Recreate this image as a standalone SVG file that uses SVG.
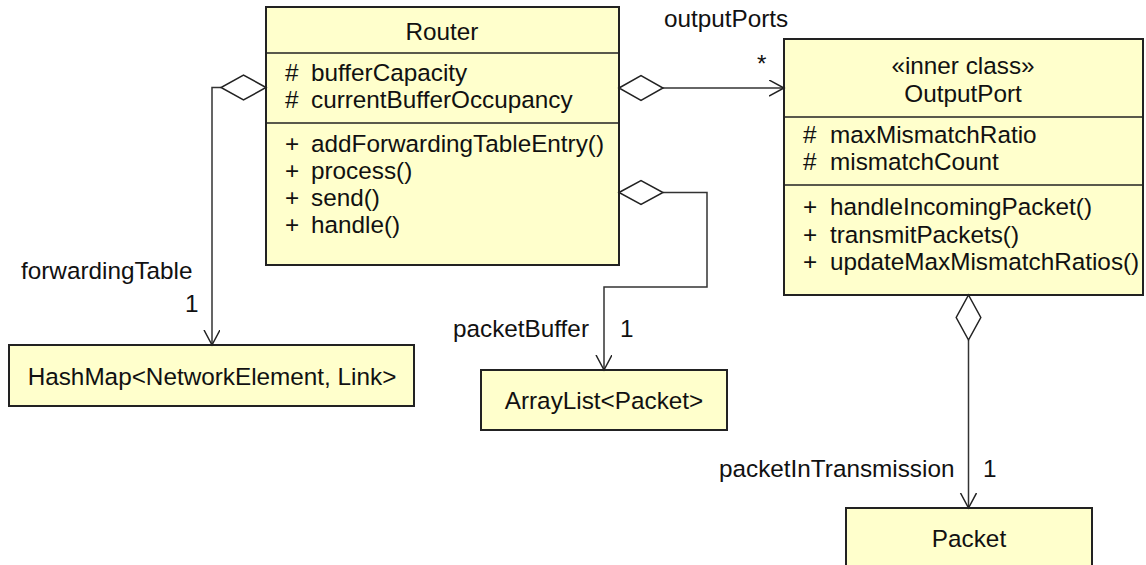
<svg xmlns="http://www.w3.org/2000/svg" width="1146" height="565" viewBox="0 0 1146 565">
  <style>
    .box { fill: #ffffcc; stroke: #222; stroke-width: 2; }
    .sep { stroke: #222; stroke-width: 1.5; fill: none; }
    .t { font-family: "Liberation Sans", Arial, sans-serif; font-size: 24.3px; fill: #111; }
    .c { text-anchor: middle; }
    .conn path, .conn line { stroke: #333; stroke-width: 1.5; fill: none; }
    .diamond { fill: #fff; stroke: #222; stroke-width: 1.5; }
  </style>
  <defs>
    <marker id="openArrow" markerWidth="18" markerHeight="20" refX="15" refY="8" orient="auto" markerUnits="userSpaceOnUse">
      <path d="M0,0 L15,8 L0,16" fill="none" stroke="#222" stroke-width="1.5"/>
    </marker>
  </defs>

  <!-- Router class -->
  <g id="router">
    <rect class="box" x="266" y="7" width="353" height="258"/>
    <line class="sep" x1="266" y1="53" x2="619" y2="53"/>
    <line class="sep" x1="266" y1="123" x2="619" y2="123"/>
    <text class="t c" x="442" y="40">Router</text>
    <text class="t" x="285" y="81">#</text>
    <text class="t" x="311" y="81">bufferCapacity</text>
    <text class="t" x="285" y="108">#</text>
    <text class="t" x="311" y="108">currentBufferOccupancy</text>
    <text class="t" x="285" y="152">+</text>
    <text class="t" x="311" y="152">addForwardingTableEntry()</text>
    <text class="t" x="285" y="179">+</text>
    <text class="t" x="311" y="179">process()</text>
    <text class="t" x="285" y="206">+</text>
    <text class="t" x="311" y="206">send()</text>
    <text class="t" x="285" y="233">+</text>
    <text class="t" x="311" y="233">handle()</text>
  </g>

  <!-- OutputPort inner class -->
  <g id="outputPort">
    <rect class="box" x="784" y="39" width="359" height="256"/>
    <line class="sep" x1="784" y1="117" x2="1143" y2="117"/>
    <line class="sep" x1="784" y1="185" x2="1143" y2="185"/>
    <text class="t c" x="963" y="74">«inner class»</text>
    <text class="t c" x="963" y="102">OutputPort</text>
    <text class="t" x="803" y="143">#</text>
    <text class="t" x="830" y="143">maxMismatchRatio</text>
    <text class="t" x="803" y="170">#</text>
    <text class="t" x="830" y="170">mismatchCount</text>
    <text class="t" x="803" y="215">+</text>
    <text class="t" x="830" y="215">handleIncomingPacket()</text>
    <text class="t" x="803" y="243">+</text>
    <text class="t" x="830" y="243">transmitPackets()</text>
    <text class="t" x="803" y="270">+</text>
    <text class="t" x="830" y="270">updateMaxMismatchRatios()</text>
  </g>

  <!-- HashMap -->
  <g id="hashMap">
    <rect class="box" x="9" y="345" width="405" height="61"/>
    <text class="t c" x="212" y="385">HashMap&lt;NetworkElement, Link&gt;</text>
  </g>

  <!-- ArrayList -->
  <g id="arrayList">
    <rect class="box" x="481" y="370" width="246" height="60"/>
    <text class="t c" x="604" y="409">ArrayList&lt;Packet&gt;</text>
  </g>

  <!-- Packet -->
  <g id="packet">
    <rect class="box" x="846" y="508" width="246" height="70"/>
    <text class="t c" x="969" y="547">Packet</text>
  </g>

  <!-- Aggregations -->
  <g id="connectors" class="conn">
    <!-- Router -> HashMap (forwardingTable) -->
    <path d="M221,87.5 L212,87.5 L212,345" marker-end="url(#openArrow)"/>
    <polygon class="diamond" points="266,87.5 243.5,75 221,87.5 243.5,100"/>
    <!-- Router -> OutputPort (outputPorts) -->
    <path d="M663,88 L784,88" marker-end="url(#openArrow)"/>
    <polygon class="diamond" points="619,88 641,75.5 663,88 641,100.5"/>
    <!-- Router -> ArrayList (packetBuffer) -->
    <path d="M663,192.5 L707,192.5 L707,287 L604,287 L604,370" marker-end="url(#openArrow)"/>
    <polygon class="diamond" points="619,192.5 641,180.5 663,192.5 641,204.5"/>
    <!-- OutputPort -> Packet (packetInTransmission) -->
    <path d="M968.5,340 L968.5,508" marker-end="url(#openArrow)"/>
    <polygon class="diamond" points="968.5,295 980.8,317.5 968.5,340 956.2,317.5"/>
  </g>

  <!-- Role names and multiplicities -->
  <g id="labels">
    <text class="t" x="21" y="279">forwardingTable</text>
    <text class="t" x="185" y="312">1</text>
    <text class="t" x="664" y="27">outputPorts</text>
    <text class="t" x="757" y="72">*</text>
    <text class="t" x="453" y="337">packetBuffer</text>
    <text class="t" x="620" y="337">1</text>
    <text class="t" x="719" y="477">packetInTransmission</text>
    <text class="t" x="983" y="477">1</text>
  </g>
</svg>
